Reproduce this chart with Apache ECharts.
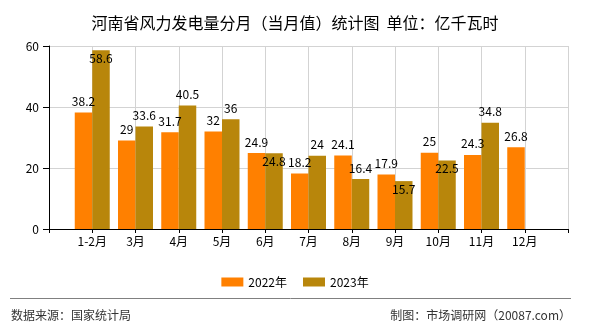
<!DOCTYPE html>
<html><head><meta charset="utf-8">
<script src="https://cdn.jsdelivr.net/npm/echarts@6/dist/echarts.min.js"></script>
<style>html,body{margin:0;padding:0;background:#fff}#c{width:590px;height:330px}</style>
</head><body><div id="c"></div>
<script>
const categories = ['1-2月','3月','4月','5月','6月','7月','8月','9月','10月','11月','12月'];
const values2022 = [38.2, 29, 31.7, 32, 24.9, 18.2, 24.1, 17.9, 25, 24.3, 26.8];
const values2023 = [58.6, 33.6, 40.5, 36, 24.8, 24, 16.4, 15.7, 22.5, 34.8, null];
const seriesNames = ['2022年', '2023年'];
const titleText = '河南省风力发电量分月（当月值）统计图  单位：亿千瓦时';
const sourceText = '数据来源：国家统计局';
const creditText = '制图：市场调研网（20087.com）';

// label placement tweaks (style, not data)
const goldInsideLabels = [0, 4, 7, 8];

const FONT = '"Noto Sans CJK SC", "DejaVu Sans", sans-serif';
const axisCats = [''].concat(categories, ['']);

function pad(arr, insideIdx) {
  const out = [null];
  arr.forEach((v, i) => {
    if (insideIdx && insideIdx.indexOf(i) >= 0 && v != null) {
      out.push({ value: v, label: { position: 'insideTop', distance: 2 } });
    } else {
      out.push(v);
    }
  });
  out.push(null);
  return out;
}

const chart = echarts.init(document.getElementById('c'), null, { renderer: 'canvas' });
const labelStyle = { show: true, position: 'top', distance: 5, color: '#000', fontSize: 12, fontFamily: FONT };

chart.setOption({
  animation: false,
  backgroundColor: '#fff',
  title: {
    text: titleText, left: 'center', top: 10,
    textStyle: { fontSize: 16, fontWeight: 'normal', color: '#000', fontFamily: FONT }
  },
  legend: {
    data: seriesNames, top: 271, left: 'center', icon: 'rect',
    itemWidth: 22, itemHeight: 9, itemGap: 16,
    textStyle: { fontSize: 12, color: '#000', fontFamily: FONT }
  },
  grid: { left: 49, right: 22, top: 46, bottom: 101, containLabel: false },
  xAxis: {
    type: 'category', data: axisCats, boundaryGap: false,
    axisLine: { lineStyle: { color: '#000', width: 1 } },
    axisTick: { show: true, interval: 0, length: 4, lineStyle: { color: '#000' } },
    axisLabel: { interval: 0, margin: 6, color: '#000', fontSize: 12, fontFamily: FONT },
    splitLine: { show: true, interval: 0, lineStyle: { color: '#d3d3d3', width: 1 } }
  },
  yAxis: {
    type: 'value', min: 0, max: 60, interval: 20,
    axisLine: { show: true, lineStyle: { color: '#000', width: 1 } },
    axisTick: { show: true, length: 6, lineStyle: { color: '#000' } },
    axisLabel: { margin: 10, color: '#000', fontSize: 12, fontFamily: FONT },
    splitLine: { show: true, lineStyle: { color: '#d3d3d3', width: 1 } }
  },
  series: [
    {
      name: seriesNames[0], type: 'bar', data: pad(values2022),
      barWidth: 17.5, barGap: '0%',
      itemStyle: { color: '#FF8000' }, label: labelStyle
    },
    {
      name: seriesNames[1], type: 'bar', data: pad(values2023, goldInsideLabels),
      barWidth: 17.5, barGap: '0%',
      itemStyle: { color: '#B8860B' }, label: labelStyle
    }
  ],
  graphic: [
    { type: 'line', shape: { x1: 10, y1: 298.5, x2: 571, y2: 298.5 }, style: { stroke: '#808080', lineWidth: 1 } },
    { type: 'text', left: 11, top: 309, style: { text: sourceText, fontSize: 12, fill: '#333', fontFamily: FONT } },
    { type: 'text', right: 19, top: 309, style: { text: creditText, fontSize: 12, fill: '#333', fontFamily: FONT } }
  ]
});
</script>
</body></html>
